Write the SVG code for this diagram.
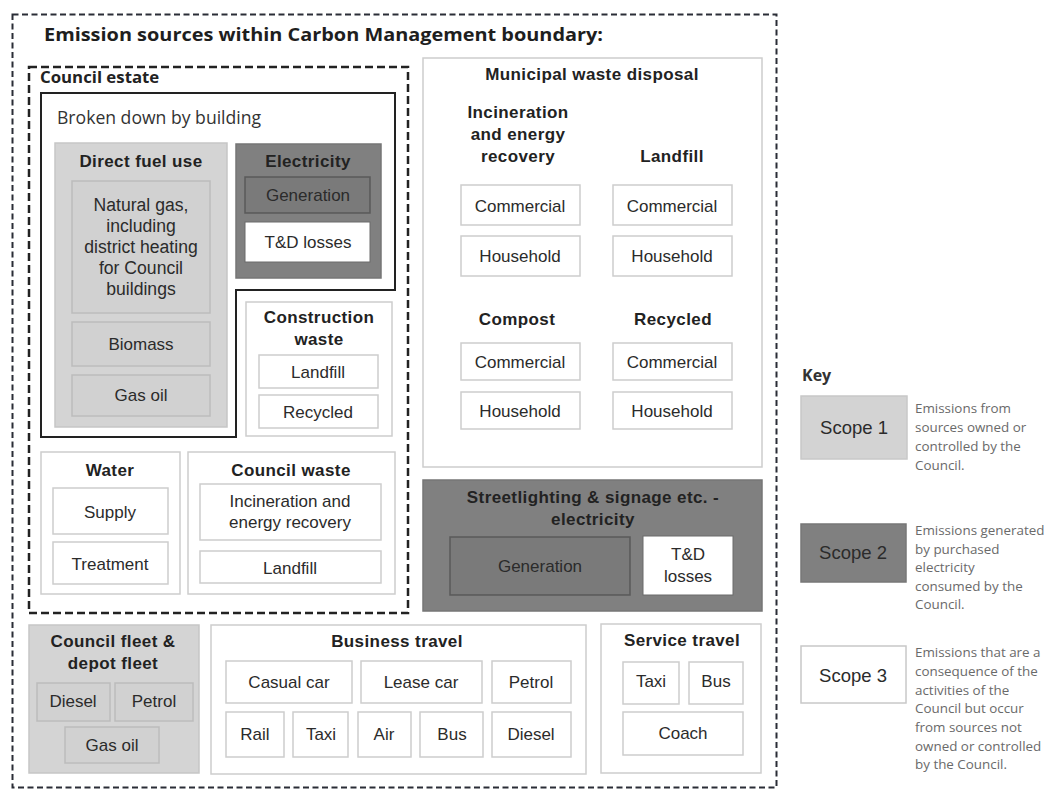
<svg xmlns="http://www.w3.org/2000/svg" width="1054" height="790" viewBox="0 0 1054 790">
<style>
.lbl{font-family:"Liberation Sans",Arial,sans-serif;font-size:17px;fill:#2b2b2b;text-anchor:middle}
.big{font-size:18.5px}
.ng{font-size:17.6px}
.hd{font-family:"Liberation Sans",Arial,sans-serif;font-weight:bold;font-size:17px;letter-spacing:0.4px;fill:#222;text-anchor:middle}
.os{font-family:"Open Sans","DejaVu Sans",sans-serif}
.desc{font-family:"Open Sans","DejaVu Sans",sans-serif;font-size:13.4px;fill:#6a6a6a}
.s1{fill:#d4d4d4;stroke:#c6c6c6;stroke-width:1.5}
.s1i{fill:#d1d1d1;stroke:#bcbcbc;stroke-width:1.5}
.s2{fill:#808080;stroke:#767676;stroke-width:1.5}
.s2i{fill:#7a7a7a;stroke:#595959;stroke-width:1.5}
.s3{fill:#fff;stroke:#cdcdcd;stroke-width:1.5}
</style>
<rect width="1054" height="790" fill="#fff"/>
<g id="boundary">
<rect x="12.5" y="14.5" width="764" height="773" fill="#fff" stroke="#2a2d36" stroke-width="2" stroke-dasharray="6 3.5"/>
<text x="44" y="41" class="os" font-weight="bold" font-size="18.5" fill="#1e1e1e" textLength="559" lengthAdjust="spacingAndGlyphs">Emission sources within Carbon Management boundary:</text>
</g>
<g id="council-estate">
<rect x="29" y="67" width="379" height="546" fill="none" stroke="#222" stroke-width="2.5" stroke-dasharray="8 4"/>
<text x="40" y="83" class="os" font-weight="bold" font-size="16.8" fill="#222">Council estate</text>
</g>
<g id="by-building">
<polygon points="41,93 395,93 395,290 236,290 236,437 41,437" fill="#fff" stroke="#222" stroke-width="2"/>
<text x="57" y="124" class="os" font-size="17.6" fill="#333">Broken down by building</text>
</g>
<g id="direct-fuel">
<rect x="55" y="143" width="172" height="284" class="s1"/>
<text x="141" y="167" class="hd">Direct fuel use</text>
<rect x="72" y="181" width="138" height="132" class="s1i"/>
<text class="lbl ng"><tspan x="141" y="211">Natural gas,</tspan><tspan x="141" y="232">including</tspan><tspan x="141" y="253">district heating</tspan><tspan x="141" y="274">for Council</tspan><tspan x="141" y="295">buildings</tspan></text>
<rect x="72" y="322" width="138" height="44" class="s1i"/>
<text x="141" y="350" class="lbl">Biomass</text>
<rect x="72" y="375" width="138" height="41" class="s1i"/>
<text x="141" y="401" class="lbl">Gas oil</text>
</g>
<g id="electricity">
<rect x="236" y="144" width="145" height="134" class="s2"/>
<text x="308" y="167" class="hd">Electricity</text>
<rect x="245" y="177" width="125" height="36" class="s2i"/>
<text x="308" y="201" class="lbl">Generation</text>
<rect x="245" y="222" width="125" height="40" fill="#fff" stroke="#6a6a6a"/>
<text x="308" y="248" class="lbl">T&amp;D losses</text>
</g>
<g id="construction-waste">
<rect x="246" y="302" width="146" height="134" class="s3"/>
<text class="hd"><tspan x="319" y="323">Construction</tspan><tspan x="319" y="345">waste</tspan></text>
<rect x="259" y="355" width="119" height="33" class="s3"/>
<text x="318" y="378" class="lbl">Landfill</text>
<rect x="259" y="395" width="119" height="33" class="s3"/>
<text x="318" y="418" class="lbl">Recycled</text>
</g>
<g id="water">
<rect x="41" y="452" width="139" height="142" class="s3"/>
<text x="110" y="476" class="hd">Water</text>
<rect x="53" y="488" width="115" height="46" class="s3"/>
<text x="110" y="518" class="lbl">Supply</text>
<rect x="53" y="542" width="115" height="42" class="s3"/>
<text x="110" y="570" class="lbl">Treatment</text>
</g>
<g id="council-waste">
<rect x="188" y="452" width="207" height="142" class="s3"/>
<text x="291" y="476" class="hd">Council waste</text>
<rect x="200" y="484" width="181" height="56" class="s3"/>
<text class="lbl"><tspan x="290" y="507">Incineration and</tspan><tspan x="290" y="528">energy recovery</tspan></text>
<rect x="200" y="551" width="181" height="32" class="s3"/>
<text x="290" y="574" class="lbl">Landfill</text>
</g>
<g id="municipal-waste">
<rect x="423" y="58" width="339" height="409" class="s3"/>
<text x="592" y="80" class="hd">Municipal waste disposal</text>
<text class="hd"><tspan x="518" y="118">Incineration</tspan><tspan x="518" y="140">and energy</tspan><tspan x="518" y="162">recovery</tspan></text>
<text x="672" y="162" class="hd">Landfill</text>
<rect x="461" y="185" width="119" height="40" class="s3"/>
<text x="520" y="212" class="lbl">Commercial</text>
<rect x="461" y="236" width="119" height="40" class="s3"/>
<text x="520" y="262" class="lbl">Household</text>
<rect x="613" y="185" width="119" height="40" class="s3"/>
<text x="672" y="212" class="lbl">Commercial</text>
<rect x="613" y="236" width="119" height="40" class="s3"/>
<text x="672" y="262" class="lbl">Household</text>
<text x="517" y="325" class="hd">Compost</text>
<text x="673" y="325" class="hd">Recycled</text>
<rect x="461" y="343" width="119" height="37" class="s3"/>
<text x="520" y="368" class="lbl">Commercial</text>
<rect x="461" y="392" width="119" height="37" class="s3"/>
<text x="520" y="417" class="lbl">Household</text>
<rect x="613" y="343" width="119" height="37" class="s3"/>
<text x="672" y="368" class="lbl">Commercial</text>
<rect x="613" y="392" width="119" height="37" class="s3"/>
<text x="672" y="417" class="lbl">Household</text>
</g>
<g id="streetlighting">
<rect x="423" y="480" width="339" height="131" class="s2"/>
<text class="hd"><tspan x="593" y="503">Streetlighting &amp; signage etc. -</tspan><tspan x="593" y="525">electricity</tspan></text>
<rect x="450" y="537" width="180" height="58" class="s2i"/>
<text x="540" y="572" class="lbl">Generation</text>
<rect x="643" y="536" width="90" height="59" fill="#fff" stroke="#6a6a6a"/>
<text class="lbl"><tspan x="688" y="560">T&amp;D</tspan><tspan x="688" y="582">losses</tspan></text>
</g>
<g id="council-fleet">
<rect x="29" y="625" width="170" height="148" class="s1"/>
<text class="hd"><tspan x="113" y="647">Council fleet &amp;</tspan><tspan x="113" y="669">depot fleet</tspan></text>
<rect x="37" y="683" width="73" height="38" class="s1i"/>
<text x="73" y="707" class="lbl">Diesel</text>
<rect x="115" y="683" width="78" height="38" class="s1i"/>
<text x="154" y="707" class="lbl">Petrol</text>
<rect x="65" y="727" width="94" height="36" class="s1i"/>
<text x="112" y="751" class="lbl">Gas oil</text>
</g>
<g id="business-travel">
<rect x="211" y="625" width="375" height="149" class="s3"/>
<text x="397" y="647" class="hd">Business travel</text>
<rect x="226" y="661" width="126" height="42" class="s3"/>
<text x="289" y="688" class="lbl">Casual car</text>
<rect x="361" y="661" width="121" height="42" class="s3"/>
<text x="421" y="688" class="lbl">Lease car</text>
<rect x="492" y="661" width="79" height="42" class="s3"/>
<text x="531" y="688" class="lbl">Petrol</text>
<rect x="226" y="712" width="58" height="45" class="s3"/>
<text x="255" y="740" class="lbl">Rail</text>
<rect x="293" y="712" width="55" height="45" class="s3"/>
<text x="321" y="740" class="lbl">Taxi</text>
<rect x="358" y="712" width="53" height="45" class="s3"/>
<text x="384" y="740" class="lbl">Air</text>
<rect x="420" y="712" width="63" height="45" class="s3"/>
<text x="452" y="740" class="lbl">Bus</text>
<rect x="492" y="712" width="79" height="45" class="s3"/>
<text x="531" y="740" class="lbl">Diesel</text>
</g>
<g id="service-travel">
<rect x="601" y="624" width="160" height="149" class="s3"/>
<text x="682" y="646" class="hd">Service travel</text>
<rect x="623" y="662" width="56" height="42" class="s3"/>
<text x="651" y="687" class="lbl">Taxi</text>
<rect x="689" y="662" width="54" height="42" class="s3"/>
<text x="716" y="687" class="lbl">Bus</text>
<rect x="623" y="712" width="120" height="43" class="s3"/>
<text x="683" y="739" class="lbl">Coach</text>
</g>
<g id="key">
<text x="802" y="381" class="os" font-weight="bold" font-size="16" fill="#333">Key</text>
<rect x="801" y="396" width="106" height="63" fill="#d3d3d3" stroke="#c8c8c8" stroke-width="1.5"/>
<text x="854" y="434" class="lbl big">Scope 1</text>
<text class="desc"><tspan x="915" y="413">Emissions from</tspan><tspan x="915" y="432">sources owned or</tspan><tspan x="915" y="451">controlled by the</tspan><tspan x="915" y="470">Council.</tspan></text>
<rect x="801" y="524" width="105" height="58" fill="#808080" stroke="#777" stroke-width="1.5"/>
<text x="853" y="559" class="lbl big">Scope 2</text>
<text class="desc"><tspan x="915" y="535">Emissions generated</tspan><tspan x="915" y="554">by purchased</tspan><tspan x="915" y="572">electricity</tspan><tspan x="915" y="591">consumed by the</tspan><tspan x="915" y="609">Council.</tspan></text>
<rect x="801" y="646" width="105" height="57" fill="#fff" stroke="#c8c8c8" stroke-width="1.5"/>
<text x="853" y="682" class="lbl big">Scope 3</text>
<text class="desc"><tspan x="915" y="657">Emissions that are a</tspan><tspan x="915" y="676">consequence of the</tspan><tspan x="915" y="695">activities of the</tspan><tspan x="915" y="713">Council but occur</tspan><tspan x="915" y="732">from sources not</tspan><tspan x="915" y="751">owned or controlled</tspan><tspan x="915" y="769">by the Council.</tspan></text>
</g>
</svg>
